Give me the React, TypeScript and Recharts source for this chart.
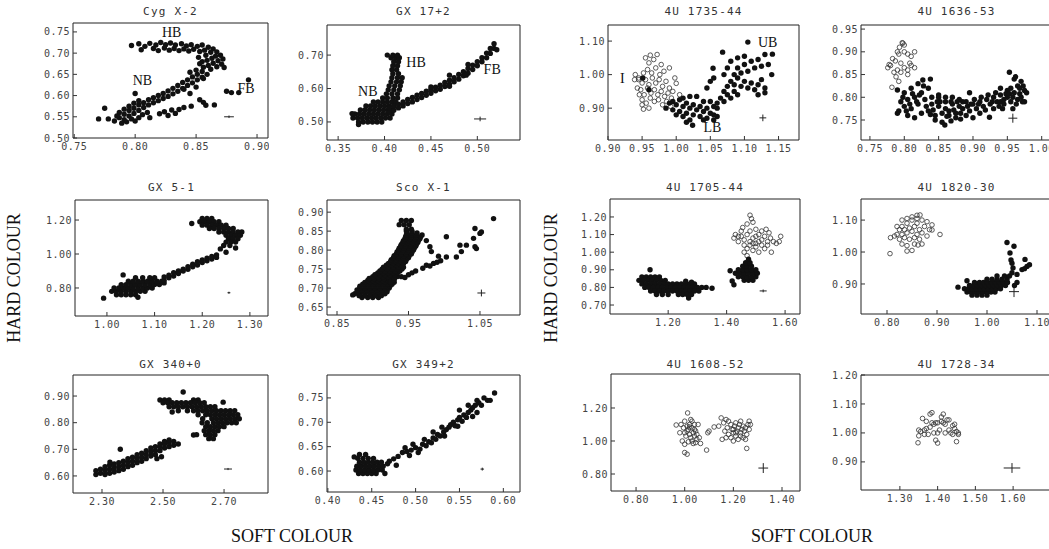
import { ScatterChart, Scatter, XAxis, YAxis, ReferenceArea, ReferenceDot, ErrorBar } from 'recharts';

type Pt = [number, number];
type Row = [number, number[]]; // [y, xs] for dense blobs
type Note = [string, number, number]; // branch label, x, y

// ---------- Cyg X-2 ----------
const cygFilled: Pt[] = [
  [0.797, 0.718], [0.803, 0.722], [0.808, 0.716], [0.812, 0.723], [0.817, 0.719], [0.821, 0.725], [0.825, 0.72], [0.829, 0.724],
  [0.833, 0.719], [0.838, 0.722], [0.842, 0.717], [0.846, 0.72], [0.851, 0.716], [0.855, 0.719], [0.86, 0.714], [0.864, 0.71],
  [0.805, 0.708], [0.815, 0.711], [0.819, 0.706], [0.824, 0.712], [0.828, 0.707], [0.832, 0.711], [0.836, 0.706], [0.84, 0.71],
  [0.844, 0.705], [0.848, 0.709], [0.853, 0.704], [0.857, 0.707], [0.862, 0.702],
  [0.867, 0.703], [0.87, 0.695], [0.866, 0.693], [0.872, 0.686], [0.868, 0.682], [0.863, 0.688], [0.858, 0.695], [0.859, 0.683],
  [0.864, 0.676], [0.871, 0.674], [0.867, 0.668], [0.86, 0.671], [0.855, 0.68], [0.862, 0.662], [0.856, 0.667], [0.853, 0.675],
  [0.873, 0.666], [0.852, 0.69],
  [0.787, 0.548], [0.787, 0.56], [0.791, 0.543], [0.791, 0.556], [0.791, 0.568], [0.795, 0.552], [0.795, 0.565], [0.795, 0.575],
  [0.799, 0.558], [0.799, 0.57], [0.799, 0.582], [0.803, 0.565], [0.803, 0.578], [0.803, 0.588], [0.807, 0.572], [0.807, 0.583],
  [0.811, 0.578], [0.811, 0.59], [0.815, 0.583], [0.815, 0.595], [0.819, 0.588], [0.819, 0.6], [0.823, 0.593], [0.823, 0.605],
  [0.827, 0.598], [0.827, 0.611], [0.831, 0.604], [0.831, 0.617], [0.835, 0.61], [0.835, 0.624], [0.839, 0.617], [0.839, 0.631],
  [0.843, 0.624], [0.843, 0.637], [0.847, 0.63], [0.847, 0.644], [0.851, 0.637], [0.851, 0.65], [0.855, 0.643], [0.855, 0.657],
  [0.859, 0.65], [0.85, 0.62], [0.845, 0.605], [0.856, 0.64], [0.84, 0.615], [0.85, 0.66], [0.845, 0.655],
  [0.783, 0.54], [0.785, 0.552], [0.789, 0.535], [0.793, 0.538], [0.797, 0.545], [0.8, 0.54], [0.803, 0.548], [0.806, 0.555],
  [0.81, 0.56], [0.812, 0.548], [0.77, 0.545], [0.775, 0.57], [0.778, 0.545], [0.8, 0.605],
  [0.82, 0.557], [0.824, 0.562], [0.827, 0.553], [0.83, 0.566], [0.833, 0.558], [0.836, 0.567], [0.84, 0.572], [0.846, 0.575],
  [0.853, 0.59], [0.856, 0.584], [0.858, 0.577], [0.865, 0.578],
  [0.875, 0.61], [0.879, 0.607], [0.885, 0.607], [0.893, 0.637],
];

// ---------- GX 17+2 ----------
const gx17Blob: Row[] = [
  [0.5, [0.372, 0.377, 0.382, 0.387, 0.392, 0.397]],
  [0.512, [0.366, 0.371, 0.376, 0.381, 0.386, 0.391, 0.396, 0.401, 0.406]],
  [0.524, [0.368, 0.373, 0.378, 0.383, 0.388, 0.393, 0.398, 0.403, 0.408]],
  [0.536, [0.374, 0.379, 0.384, 0.389, 0.394, 0.399, 0.404, 0.409]],
  [0.548, [0.38, 0.385, 0.39, 0.395, 0.4, 0.405, 0.41]],
  [0.56, [0.388, 0.393, 0.398, 0.403, 0.408, 0.412]],
  [0.572, [0.398, 0.403, 0.409, 0.414]],
  [0.584, [0.402, 0.408, 0.414]],
  [0.596, [0.404, 0.41, 0.416]],
  [0.608, [0.405, 0.411, 0.417]],
  [0.62, [0.407, 0.413, 0.418]],
  [0.632, [0.408, 0.414, 0.419]],
  [0.644, [0.409, 0.415]],
  [0.656, [0.408, 0.413]],
  [0.668, [0.409, 0.414]],
  [0.68, [0.41, 0.415]],
  [0.692, [0.407, 0.412, 0.416]],
  [0.7, [0.403, 0.409, 0.414]],
];
const gx17Filled: Pt[] = [
  [0.365, 0.525], [0.372, 0.492],
  [0.405, 0.53], [0.405, 0.542], [0.41, 0.535], [0.41, 0.548], [0.415, 0.542], [0.415, 0.553], [0.42, 0.548], [0.42, 0.56],
  [0.425, 0.555], [0.425, 0.567], [0.43, 0.56], [0.43, 0.573], [0.435, 0.567], [0.435, 0.58], [0.44, 0.573], [0.44, 0.585],
  [0.445, 0.58], [0.445, 0.592], [0.45, 0.586], [0.45, 0.598], [0.455, 0.593], [0.455, 0.604], [0.46, 0.598], [0.46, 0.61],
  [0.465, 0.606], [0.465, 0.618], [0.47, 0.613], [0.47, 0.625], [0.475, 0.62], [0.475, 0.632], [0.48, 0.628], [0.48, 0.642],
  [0.485, 0.638], [0.485, 0.65], [0.49, 0.646], [0.49, 0.66], [0.495, 0.657], [0.495, 0.67], [0.5, 0.668], [0.5, 0.68],
  [0.505, 0.68], [0.505, 0.692], [0.51, 0.692], [0.51, 0.706], [0.514, 0.705], [0.514, 0.72], [0.518, 0.72], [0.518, 0.734],
  [0.45, 0.605], [0.47, 0.607], [0.488, 0.64], [0.49, 0.672], [0.47, 0.64], [0.521, 0.716],
];

// ---------- 4U 1735-44 ----------
const u1735Open: Pt[] = [
  [0.945, 0.99], [0.95, 0.975], [0.955, 0.985], [0.96, 0.97], [0.965, 0.99], [0.97, 0.975], [0.975, 0.985], [0.98, 0.965],
  [0.985, 0.98], [0.99, 0.96], [0.948, 0.955], [0.953, 0.94], [0.958, 0.96], [0.963, 0.945], [0.968, 0.955], [0.973, 0.94],
  [0.978, 0.95], [0.983, 0.935], [0.988, 0.945], [0.993, 0.93], [0.95, 0.925], [0.956, 0.915], [0.962, 0.93], [0.968, 0.92],
  [0.974, 0.925], [0.98, 0.91], [0.986, 0.92], [0.992, 0.905], [0.952, 1.005], [0.958, 1.015], [0.964, 1.005], [0.97, 1.02],
  [0.976, 1.0], [0.982, 1.01], [0.96, 1.035], [0.967, 1.045], [0.955, 1.05], [0.962, 1.058], [0.972, 1.06], [0.978, 1.03],
  [0.99, 1.02], [0.939, 0.985], [0.945, 0.985], [0.94, 1.0], [0.943, 0.96], [0.946, 0.94], [0.95, 0.91], [0.952, 0.897],
  [0.96, 0.9], [1.0, 0.974], [0.995, 0.95], [1.005, 0.94], [0.998, 0.99],
];
const u1735Filled: Pt[] = [
  [0.951, 0.99], [0.96, 0.955],
  [0.985, 0.9], [0.99, 0.915], [0.995, 0.895], [1.0, 0.91], [1.005, 0.89], [1.01, 0.905], [1.015, 0.885], [1.02, 0.9],
  [1.025, 0.88], [1.03, 0.895], [1.035, 0.875], [1.04, 0.89], [1.045, 0.87], [1.05, 0.885], [1.055, 0.88], [1.06, 0.9],
  [0.995, 0.92], [1.005, 0.925], [1.015, 0.915], [1.025, 0.91], [1.035, 0.905], [1.045, 0.9], [1.055, 0.905], [1.01, 0.93],
  [1.03, 0.935], [1.02, 0.935], [1.04, 0.92], [1.05, 0.92], [1.0, 0.88], [1.01, 0.875], [1.02, 0.865], [1.024, 0.849],
  [1.015, 0.858], [1.04, 0.865], [1.055, 0.865], [1.06, 0.875],
  [1.06, 0.915], [1.065, 0.93], [1.07, 0.92], [1.075, 0.94], [1.08, 0.93], [1.085, 0.95], [1.09, 0.94], [1.07, 0.95],
  [1.075, 0.965], [1.08, 0.98], [1.085, 0.97], [1.09, 0.99], [1.095, 0.965], [1.1, 0.98], [1.105, 0.96], [1.11, 0.975],
  [1.115, 0.955], [1.12, 0.97], [1.125, 0.985], [1.13, 0.96], [1.085, 1.0], [1.09, 1.02], [1.095, 1.005], [1.1, 1.03],
  [1.105, 1.01], [1.11, 1.04], [1.115, 1.02], [1.12, 1.045], [1.125, 1.025], [1.1, 1.055], [1.09, 1.05], [1.08, 1.04],
  [1.075, 1.02], [1.07, 1.0], [1.068, 1.067], [1.054, 1.019], [1.055, 0.99], [1.05, 0.98], [1.045, 0.96], [1.13, 1.06],
  [1.135, 1.03], [1.14, 1.0], [1.13, 0.946], [1.105, 1.097], [1.141, 1.061], [1.12, 0.94],
];

// ---------- 4U 1636-53 ----------
const u1636Open: Pt[] = [
  [0.776, 0.865], [0.78, 0.87], [0.783, 0.885], [0.787, 0.88], [0.79, 0.9], [0.793, 0.91], [0.797, 0.92], [0.8, 0.915],
  [0.792, 0.895], [0.785, 0.855], [0.79, 0.86], [0.795, 0.855], [0.8, 0.865], [0.805, 0.86], [0.81, 0.87], [0.8, 0.9],
  [0.805, 0.895], [0.81, 0.89], [0.815, 0.9], [0.808, 0.875], [0.795, 0.875], [0.788, 0.845], [0.792, 0.835], [0.782, 0.822],
  [0.778, 0.872], [0.798, 0.919], [0.805, 0.85], [0.815, 0.865],
];
const u1636Filled: Pt[] = [
  [0.79, 0.765], [0.795, 0.79], [0.8, 0.78], [0.8, 0.81], [0.805, 0.795], [0.81, 0.775], [0.81, 0.82], [0.815, 0.8],
  [0.82, 0.785], [0.82, 0.83], [0.825, 0.81], [0.83, 0.795], [0.827, 0.838], [0.835, 0.82], [0.838, 0.84], [0.79, 0.816],
  [0.792, 0.77], [0.815, 0.755], [0.825, 0.765], [0.805, 0.76],
  [0.835, 0.77], [0.84, 0.785], [0.845, 0.76], [0.85, 0.78], [0.855, 0.765], [0.86, 0.79], [0.865, 0.77], [0.87, 0.785],
  [0.875, 0.765], [0.88, 0.78], [0.885, 0.775], [0.89, 0.79], [0.895, 0.77], [0.9, 0.785], [0.905, 0.775], [0.91, 0.79],
  [0.915, 0.78], [0.92, 0.795], [0.84, 0.8], [0.85, 0.805], [0.86, 0.775], [0.87, 0.8], [0.88, 0.795], [0.845, 0.75],
  [0.855, 0.745], [0.865, 0.76], [0.875, 0.755], [0.859, 0.739], [0.89, 0.76], [0.9, 0.755], [0.91, 0.765], [0.895, 0.81],
  [0.85, 0.8], [0.925, 0.785], [0.93, 0.8], [0.935, 0.79], [0.94, 0.805], [0.945, 0.785], [0.95, 0.8], [0.955, 0.79],
  [0.96, 0.81], [0.965, 0.795], [0.97, 0.8], [0.975, 0.815], [0.965, 0.825], [0.96, 0.84], [0.953, 0.855], [0.962, 0.845],
  [0.97, 0.835], [0.968, 0.82], [0.978, 0.81], [0.94, 0.82], [0.95, 0.815], [0.93, 0.775], [0.924, 0.756], [0.958, 0.775],
  [0.975, 0.79], [0.94, 0.79], [0.912, 0.8],
  [0.803, 0.77], [0.818, 0.79], [0.832, 0.78], [0.842, 0.772], [0.852, 0.79], [0.862, 0.758], [0.872, 0.772], [0.882, 0.765],
  [0.892, 0.78], [0.902, 0.795], [0.918, 0.772], [0.928, 0.79], [0.938, 0.78], [0.948, 0.808], [0.958, 0.8], [0.968, 0.808],
  [0.973, 0.825], [0.945, 0.795], [0.86, 0.8], [0.822, 0.805], [0.798, 0.8], [0.812, 0.808], [0.877, 0.79], [0.955, 0.82],
  [0.838, 0.762], [0.848, 0.79], [0.868, 0.79], [0.885, 0.79], [0.897, 0.785], [0.908, 0.785], [0.922, 0.805], [0.933, 0.81],
  [0.943, 0.775], [0.953, 0.808], [0.963, 0.785], [0.972, 0.79], [0.828, 0.825], [0.808, 0.785], [0.868, 0.748], [0.882, 0.752],
];

// ---------- GX 5-1 ----------
const gx5Blob: Row[] = [
  [0.76, [1.02, 1.03, 1.04, 1.05, 1.06]],
  [0.78, [1.01, 1.02, 1.03, 1.04, 1.05, 1.06, 1.07, 1.08]],
  [0.8, [1.015, 1.025, 1.035, 1.045, 1.055, 1.065, 1.075, 1.085, 1.095]],
  [0.82, [1.03, 1.04, 1.05, 1.06, 1.07, 1.08, 1.09, 1.1, 1.11]],
  [0.84, [1.045, 1.055, 1.065, 1.075, 1.085, 1.095, 1.105, 1.115]],
  [0.86, [1.06, 1.075, 1.09, 1.1]],
  [1.21, [1.2, 1.21, 1.22]],
  [1.19, [1.195, 1.205, 1.215, 1.225, 1.235]],
  [1.17, [1.2, 1.21, 1.22, 1.23, 1.24, 1.25]],
  [1.15, [1.215, 1.225, 1.235, 1.245, 1.255, 1.265]],
  [1.13, [1.235, 1.245, 1.255, 1.265, 1.275, 1.283]],
  [1.11, [1.25, 1.26, 1.27, 1.28]],
  [1.09, [1.255, 1.265, 1.275]],
  [1.07, [1.25, 1.26, 1.27]],
  [1.05, [1.245, 1.258]],
];
const gx5Filled: Pt[] = [
  [1.034, 0.877], [0.993, 0.74], [1.065, 0.745], [1.12, 0.83],
  [1.12, 0.845], [1.12, 0.865], [1.13, 0.86], [1.13, 0.875], [1.14, 0.87], [1.14, 0.89], [1.15, 0.885], [1.15, 0.9],
  [1.16, 0.9], [1.16, 0.91], [1.17, 0.91], [1.17, 0.925], [1.18, 0.925], [1.18, 0.94], [1.19, 0.935], [1.19, 0.955],
  [1.2, 0.95], [1.2, 0.965], [1.21, 0.96], [1.21, 0.975], [1.22, 0.97], [1.22, 0.985], [1.23, 0.98], [1.23, 0.995],
  [1.178, 1.18], [1.25, 1.01], [1.27, 1.035], [1.238, 1.03],
];

// ---------- Sco X-1 ----------
const scoBlob: Row[] = [
  [0.675, [0.885, 0.893, 0.9, 0.908]],
  [0.68, [0.881, 0.889, 0.897, 0.904, 0.912]],
  [0.685, [0.875, 0.882, 0.889, 0.896, 0.903, 0.91, 0.917]],
  [0.69, [0.879, 0.886, 0.893, 0.9, 0.907, 0.914, 0.92]],
  [0.695, [0.878, 0.885, 0.892, 0.899, 0.906, 0.913, 0.92]],
  [0.7, [0.882, 0.889, 0.896, 0.903, 0.91, 0.917, 0.923]],
  [0.705, [0.882, 0.889, 0.896, 0.903, 0.91, 0.917, 0.924]],
  [0.71, [0.886, 0.893, 0.9, 0.907, 0.914, 0.921, 0.927]],
  [0.715, [0.889, 0.896, 0.903, 0.91, 0.917, 0.924, 0.93]],
  [0.72, [0.893, 0.9, 0.907, 0.914, 0.921, 0.928]],
  [0.725, [0.895, 0.902, 0.909, 0.916, 0.923, 0.93]],
  [0.73, [0.9, 0.907, 0.914, 0.921, 0.928, 0.934]],
  [0.735, [0.903, 0.91, 0.917, 0.924, 0.931]],
  [0.74, [0.907, 0.914, 0.921, 0.928, 0.935]],
  [0.745, [0.91, 0.917, 0.924, 0.931, 0.938]],
  [0.75, [0.913, 0.92, 0.927, 0.934, 0.941]],
  [0.755, [0.915, 0.922, 0.929, 0.936, 0.943]],
  [0.76, [0.919, 0.926, 0.933, 0.94]],
  [0.765, [0.922, 0.929, 0.936, 0.943]],
  [0.77, [0.925, 0.932, 0.939, 0.946]],
  [0.775, [0.926, 0.933, 0.94, 0.947]],
  [0.78, [0.929, 0.936, 0.943, 0.95]],
  [0.785, [0.93, 0.937, 0.944, 0.951]],
  [0.79, [0.933, 0.94, 0.947, 0.954]],
  [0.795, [0.934, 0.941, 0.948, 0.955]],
  [0.8, [0.936, 0.943, 0.95, 0.957]],
  [0.805, [0.937, 0.944, 0.951, 0.958]],
  [0.81, [0.939, 0.946, 0.953, 0.96]],
  [0.815, [0.94, 0.947, 0.954, 0.961]],
  [0.82, [0.942, 0.949, 0.956, 0.963]],
  [0.825, [0.943, 0.95, 0.957, 0.964]],
  [0.83, [0.945, 0.952, 0.959, 0.966]],
  [0.835, [0.946, 0.953, 0.96, 0.967]],
  [0.84, [0.947, 0.954, 0.961]],
  [0.845, [0.948, 0.955, 0.962]],
  [0.85, [0.947, 0.955]],
  [0.855, [0.947, 0.954]],
  [0.867, [0.937, 0.944, 0.951]],
  [0.878, [0.94, 0.947, 0.954]],
];
const scoFilled: Pt[] = [
  [0.872, 0.682], [0.969, 0.84], [0.975, 0.825],
  [0.925, 0.716], [0.93, 0.722], [0.94, 0.73], [0.945, 0.728], [0.95, 0.735], [0.955, 0.74], [0.96, 0.745], [0.97, 0.752],
  [0.975, 0.76], [0.98, 0.758], [0.985, 0.765], [0.99, 0.768], [0.995, 0.772],
  [0.98, 0.809], [0.982, 0.796], [0.992, 0.784], [1.003, 0.782], [1.017, 0.782], [1.024, 0.796], [1.022, 0.813],
  [1.031, 0.813], [1.041, 0.831], [1.043, 0.809], [1.045, 0.804], [1.043, 0.857], [1.05, 0.844], [1.052, 0.848],
  [1.069, 0.883], [1.003, 0.835],
];

// ---------- 4U 1705-44 ----------
const u1705Blob: Row[] = [
  [0.86, [1.11, 1.125, 1.14, 1.155, 1.17]],
  [0.84, [1.1, 1.115, 1.13, 1.145, 1.16, 1.175, 1.19]],
  [0.82, [1.11, 1.125, 1.14, 1.155, 1.17, 1.185, 1.2, 1.215, 1.23, 1.245, 1.26, 1.275, 1.29]],
  [0.8, [1.12, 1.135, 1.15, 1.165, 1.18, 1.195, 1.21, 1.225, 1.24, 1.255, 1.27, 1.285, 1.3, 1.315, 1.33]],
  [0.78, [1.14, 1.155, 1.17, 1.185, 1.2, 1.215, 1.23, 1.245, 1.26, 1.275, 1.29, 1.305]],
  [0.76, [1.16, 1.18, 1.2, 1.235, 1.25, 1.265, 1.28]],
  [0.84, [1.46, 1.475, 1.49]],
  [0.86, [1.44, 1.455, 1.47, 1.485, 1.5]],
  [0.88, [1.43, 1.445, 1.46, 1.475, 1.49, 1.505]],
  [0.9, [1.44, 1.455, 1.47, 1.485, 1.5]],
  [0.92, [1.455, 1.47, 1.485]],
  [0.94, [1.465, 1.48]],
  [0.96, [1.475]],
];
const u1705Filled: Pt[] = [
  [1.138, 0.9], [1.27, 0.74], [1.26, 0.835], [1.28, 0.83], [1.35, 0.795], [1.412, 0.895], [1.419, 0.836], [1.425, 0.815],
];
const u1705Open: Pt[] = [
  [1.45, 1.09], [1.46, 1.07], [1.47, 1.1], [1.48, 1.06], [1.49, 1.08], [1.5, 1.05], [1.51, 1.1], [1.52, 1.07],
  [1.53, 1.09], [1.54, 1.06], [1.55, 1.08], [1.46, 1.04], [1.47, 1.02], [1.48, 1.04], [1.49, 1.01], [1.5, 1.03],
  [1.51, 1.0], [1.52, 1.04], [1.53, 1.02], [1.54, 1.04], [1.45, 1.12], [1.48, 1.12], [1.5, 1.13], [1.52, 1.12],
  [1.44, 1.09], [1.43, 1.1], [1.425, 1.08], [1.56, 1.06], [1.57, 1.05], [1.585, 1.09], [1.58, 1.06], [1.553, 1.0],
  [1.485, 1.19], [1.48, 1.21], [1.47, 1.16], [1.49, 1.17], [1.455, 1.14], [1.535, 1.13], [1.545, 1.11], [1.46, 1.0],
  [1.47, 0.98], [1.49, 1.05], [1.51, 1.06], [1.44, 1.06], [1.5, 1.09],
];

// ---------- 4U 1820-30 ----------
const u1820Open: Pt[] = [
  [0.83, 1.08], [0.84, 1.09], [0.85, 1.1], [0.86, 1.09], [0.835, 1.07], [0.845, 1.075], [0.855, 1.08], [0.865, 1.07],
  [0.83, 1.055], [0.84, 1.06], [0.85, 1.065], [0.86, 1.055], [0.87, 1.06], [0.835, 1.045], [0.845, 1.04], [0.855, 1.045],
  [0.865, 1.04], [0.825, 1.04], [0.82, 1.055], [0.807, 1.045], [0.815, 1.05], [0.825, 1.07], [0.82, 1.08], [0.83, 1.1],
  [0.84, 1.105], [0.85, 1.11], [0.86, 1.105], [0.87, 1.1], [0.88, 1.095], [0.875, 1.08], [0.885, 1.07], [0.89, 1.085],
  [0.89, 1.069], [0.88, 1.05], [0.87, 1.025], [0.862, 1.022], [0.85, 1.005], [0.84, 1.003], [0.806, 0.995], [0.906, 1.055],
  [0.84, 1.02], [0.855, 1.025], [0.83, 1.025], [0.86, 1.115], [0.866, 1.116],
];
const u1820Blob: Row[] = [
  [0.865, [0.97, 0.98, 0.99, 1.0]],
  [0.875, [0.96, 0.968, 0.976, 0.984, 0.992, 1.0, 1.008, 1.016]],
  [0.885, [0.955, 0.963, 0.971, 0.979, 0.987, 0.995, 1.003, 1.011, 1.019, 1.027]],
  [0.895, [0.965, 0.973, 0.981, 0.989, 0.997, 1.005, 1.013, 1.021, 1.029, 1.037]],
  [0.905, [0.985, 0.993, 1.001, 1.009, 1.017, 1.025, 1.033, 1.041]],
  [0.915, [1.0, 1.01, 1.02, 1.03, 1.04]],
  [0.925, [1.02, 1.035, 1.045]],
];
const u1820Filled: Pt[] = [
  [1.05, 0.935], [1.052, 0.95], [1.05, 0.965], [1.048, 0.975], [1.04, 1.03], [1.046, 0.997], [1.054, 1.018], [1.06, 0.93],
  [1.07, 0.945], [1.08, 0.955], [1.085, 0.96], [1.076, 0.977], [1.075, 0.948], [0.942, 0.89], [0.96, 0.91], [0.975, 0.905],
  [1.06, 0.905], [1.055, 0.895],
];

// ---------- GX 340+0 ----------
const gx340Blob: Row[] = [
  [0.885, [2.49, 2.505, 2.52, 2.6, 2.615]],
  [0.875, [2.5, 2.515, 2.53, 2.545, 2.56, 2.575, 2.59, 2.605, 2.62, 2.635]],
  [0.86, [2.52, 2.535, 2.55, 2.565, 2.58, 2.595, 2.61, 2.625, 2.64, 2.655, 2.67]],
  [0.845, [2.55, 2.58, 2.6, 2.615, 2.63, 2.645, 2.66, 2.675, 2.69, 2.705, 2.72, 2.735]],
  [0.83, [2.615, 2.64, 2.655, 2.67, 2.685, 2.7, 2.715, 2.73, 2.745]],
  [0.815, [2.63, 2.66, 2.675, 2.69, 2.705, 2.72, 2.735, 2.75]],
  [0.8, [2.645, 2.665, 2.68, 2.695, 2.71, 2.725, 2.74]],
  [0.785, [2.64, 2.655, 2.67, 2.685, 2.7]],
  [0.77, [2.635, 2.65, 2.665, 2.68]],
  [0.755, [2.64, 2.655, 2.67]],
  [0.74, [2.65, 2.665]],
];
const gx340Filled: Pt[] = [
  [2.28, 0.605], [2.28, 0.62], [2.295, 0.61], [2.295, 0.625], [2.31, 0.605], [2.31, 0.62], [2.31, 0.635], [2.325, 0.61],
  [2.325, 0.625], [2.325, 0.64], [2.34, 0.615], [2.34, 0.63], [2.34, 0.645], [2.355, 0.62], [2.355, 0.635], [2.355, 0.65],
  [2.37, 0.625], [2.37, 0.64], [2.37, 0.655], [2.385, 0.635], [2.385, 0.65], [2.385, 0.665], [2.4, 0.64], [2.4, 0.655],
  [2.4, 0.67], [2.415, 0.65], [2.415, 0.665], [2.415, 0.68], [2.43, 0.655], [2.43, 0.67], [2.43, 0.685], [2.445, 0.665],
  [2.445, 0.68], [2.445, 0.695], [2.46, 0.675], [2.46, 0.69], [2.46, 0.705], [2.475, 0.68], [2.475, 0.695], [2.475, 0.71],
  [2.49, 0.695], [2.49, 0.71], [2.49, 0.72], [2.505, 0.705], [2.505, 0.72], [2.505, 0.73], [2.52, 0.71], [2.52, 0.725],
  [2.52, 0.735], [2.535, 0.715], [2.535, 0.73], [2.55, 0.72],
  [2.36, 0.7], [2.48, 0.665], [2.495, 0.672], [2.326, 0.652],
  [2.566, 0.915], [2.53, 0.84], [2.6, 0.754], [2.61, 0.755], [2.628, 0.8], [2.697, 0.877],
];

// ---------- GX 349+2 ----------
const gx349Blob: Row[] = [
  [0.595, [0.435, 0.44, 0.445, 0.45, 0.455]],
  [0.602, [0.432, 0.437, 0.442, 0.447, 0.452, 0.457, 0.462]],
  [0.61, [0.433, 0.438, 0.443, 0.448, 0.453, 0.458, 0.463]],
  [0.618, [0.436, 0.441, 0.446, 0.451, 0.456, 0.461]],
  [0.626, [0.434, 0.44, 0.446, 0.452]],
  [0.634, [0.436, 0.443]],
];
const gx349Filled: Pt[] = [
  [0.43, 0.629], [0.465, 0.595], [0.468, 0.615], [0.47, 0.62], [0.475, 0.625], [0.478, 0.612],
  [0.48, 0.63], [0.485, 0.638], [0.49, 0.64], [0.495, 0.643], [0.5, 0.648], [0.505, 0.645], [0.508, 0.655], [0.512, 0.652],
  [0.515, 0.66], [0.52, 0.668], [0.523, 0.665], [0.525, 0.675], [0.528, 0.672], [0.532, 0.68], [0.535, 0.685], [0.538, 0.69],
  [0.54, 0.695], [0.543, 0.7], [0.545, 0.693], [0.548, 0.705], [0.55, 0.71], [0.553, 0.702], [0.555, 0.715], [0.558, 0.71],
  [0.56, 0.72], [0.563, 0.725], [0.565, 0.73], [0.568, 0.735], [0.572, 0.74], [0.575, 0.735], [0.578, 0.75], [0.582, 0.745],
  [0.585, 0.745], [0.59, 0.76], [0.57, 0.745], [0.56, 0.735], [0.55, 0.725], [0.53, 0.69], [0.52, 0.68], [0.51, 0.665],
  [0.497, 0.655], [0.488, 0.648], [0.493, 0.632], [0.503, 0.638], [0.518, 0.658], [0.533, 0.672], [0.548, 0.692],
  [0.57, 0.72], [0.565, 0.712],
];

// ---------- 4U 1608-52 ----------
const u1608Open: Pt[] = [
  [0.985, 1.1], [0.995, 1.08], [1.0, 1.12], [1.01, 1.09], [1.015, 1.07], [1.02, 1.1], [1.025, 1.13], [1.03, 1.08],
  [1.035, 1.05], [1.04, 1.1], [1.045, 1.06], [1.05, 1.04], [1.055, 1.1], [1.06, 1.02], [1.0, 1.05], [1.005, 1.03],
  [1.01, 1.06], [1.02, 1.04], [1.025, 1.02], [1.03, 1.0], [1.04, 1.03], [1.045, 0.99], [1.05, 1.01], [0.98, 1.05],
  [0.99, 1.0], [1.0, 0.98], [1.015, 0.995], [1.035, 0.985], [1.065, 0.985], [1.0, 0.93], [1.01, 0.92], [1.09, 0.945],
  [1.012, 1.17], [0.965, 1.097], [1.03, 1.12], [1.02, 1.085], [1.04, 1.07], [1.095, 1.05], [1.1, 1.06],
  [1.14, 1.09], [1.15, 1.14], [1.16, 1.11], [1.17, 1.13], [1.175, 1.08], [1.18, 1.12], [1.19, 1.1], [1.195, 1.07],
  [1.2, 1.05], [1.205, 1.09], [1.21, 1.11], [1.215, 1.06], [1.22, 1.08], [1.225, 1.1], [1.23, 1.05], [1.235, 1.07],
  [1.24, 1.09], [1.245, 1.06], [1.25, 1.08], [1.255, 1.04], [1.26, 1.1], [1.265, 1.07], [1.27, 1.1], [1.18, 1.04],
  [1.19, 1.02], [1.2, 1.0], [1.21, 1.03], [1.22, 1.01], [1.23, 1.03], [1.24, 1.02], [1.25, 1.01], [1.165, 1.06],
  [1.17, 1.02], [1.154, 1.01], [1.121, 1.085], [1.255, 0.955], [1.265, 1.12], [1.2, 1.07], [1.21, 1.05], [1.23, 1.12],
];

// ---------- 4U 1728-34 ----------
const u1728Open: Pt[] = [
  [1.348, 0.966], [1.35, 0.99], [1.355, 1.005], [1.36, 1.05], [1.365, 1.01], [1.37, 1.015], [1.375, 0.995], [1.38, 1.02],
  [1.38, 1.065], [1.385, 1.07], [1.39, 1.0], [1.39, 1.03], [1.395, 0.975], [1.4, 0.965], [1.4, 1.035], [1.405, 1.01],
  [1.41, 1.04], [1.41, 1.055], [1.415, 1.065], [1.42, 1.03], [1.42, 1.0], [1.425, 1.045], [1.43, 1.01], [1.435, 1.0],
  [1.44, 1.025], [1.445, 1.015], [1.45, 1.005], [1.455, 0.995], [1.45, 0.97], [1.455, 1.0], [1.445, 1.03], [1.44, 0.995],
  [1.395, 1.035], [1.385, 1.035], [1.37, 1.04], [1.35, 1.01], [1.365, 0.995], [1.415, 1.035], [1.43, 1.045], [1.4, 1.0],
];

// error crosses: x, y, xErr, yErr
const errCyg = [0.877, 0.55, 0.004, 0.003];
const errGx17 = [0.503, 0.509, 0.0065, 0.007];
const err1735 = [1.127, 0.871, 0.005, 0.01];
const err1636 = [0.958, 0.754, 0.0065, 0.01];
const errGx5 = [1.256, 0.772, 0.003, 0.006];
const errSco = [1.052, 0.687, 0.0056, 0.009];
const err1705 = [1.525, 0.78, 0.012, 0.008];
const err1820 = [1.054, 0.876, 0.01, 0.017];
const errGx340 = [2.713, 0.626, 0.013, 0.004];
const errGx349 = [0.576, 0.604, 0.002, 0.003];
const err1608 = [1.323, 0.836, 0.02, 0.03];
const err1728 = [1.597, 0.879, 0.022, 0.017];

// branch names written inside the panels
const cygNotes: Note[] = [['HB', 0.83, 0.745], ['NB', 0.806, 0.632], ['FB', 0.891, 0.614]];
const gx17Notes: Note[] = [['HB', 0.434, 0.674], ['NB', 0.382, 0.586], ['FB', 0.516, 0.654]];
const u1735Notes: Note[] = [['I', 0.921, 0.984], ['LB', 1.053, 0.838], ['UB', 1.134, 1.092]];

const flat = (rows: Row[]): Pt[] => rows.flatMap(([y, xs]) => xs.map((x) => [x, y] as Pt));

interface PanelDef {
  title: string;
  box: [number, number, number, number];
  xDomain: [number, number];
  yDomain: [number, number];
  xTicks: number[];
  yTicks: number[];
  filled: Pt[];
  open: Pt[];
  err: number[];
  notes?: Note[];
}

const panels: PanelDef[] = [
  { title: 'Cyg X-2', box: [73, 23, 268, 138], xDomain: [0.749, 0.909], yDomain: [0.5, 0.771],
    xTicks: [0.75, 0.8, 0.85, 0.9], yTicks: [0.5, 0.55, 0.6, 0.65, 0.7, 0.75], filled: cygFilled, open: [], err: errCyg, notes: cygNotes },
  { title: 'GX 17+2', box: [327, 25, 520, 140], xDomain: [0.338, 0.546], yDomain: [0.446, 0.79],
    xTicks: [0.35, 0.4, 0.45, 0.5], yTicks: [0.5, 0.6, 0.7], filled: [...flat(gx17Blob), ...gx17Filled], open: [], err: errGx17, notes: gx17Notes },
  { title: '4U 1735-44', box: [608, 25, 799, 140], xDomain: [0.9, 1.18], yDomain: [0.805, 1.148],
    xTicks: [0.9, 0.95, 1.0, 1.05, 1.1, 1.15], yTicks: [0.9, 1.0, 1.1], filled: u1735Filled, open: u1735Open, err: err1735, notes: u1735Notes },
  { title: '4U 1636-53', box: [861, 25, 1052, 140], xDomain: [0.737, 1.015], yDomain: [0.706, 0.959],
    xTicks: [0.75, 0.8, 0.85, 0.9, 0.95, 1.0], yTicks: [0.75, 0.8, 0.85, 0.9, 0.95], filled: u1636Filled, open: u1636Open, err: err1636 },
  { title: 'GX 5-1', box: [75, 200, 268, 316], xDomain: [0.933, 1.338], yDomain: [0.635, 1.318],
    xTicks: [1.0, 1.1, 1.2, 1.3], yTicks: [0.8, 1.0, 1.2], filled: [...flat(gx5Blob), ...gx5Filled], open: [], err: errGx5 },
  { title: 'Sco X-1', box: [327, 200, 520, 315], xDomain: [0.836, 1.106], yDomain: [0.629, 0.932],
    xTicks: [0.85, 0.95, 1.05], yTicks: [0.65, 0.7, 0.75, 0.8, 0.85, 0.9], filled: [...flat(scoBlob), ...scoFilled], open: [], err: errSco },
  { title: '4U 1705-44', box: [610, 199, 800, 314], xDomain: [1.001, 1.651], yDomain: [0.649, 1.302],
    xTicks: [1.2, 1.4, 1.6], yTicks: [0.7, 0.8, 0.9, 1.0, 1.1, 1.2], filled: [...flat(u1705Blob), ...u1705Filled], open: u1705Open, err: err1705 },
  { title: '4U 1820-30', box: [861, 199, 1052, 314], xDomain: [0.748, 1.13], yDomain: [0.806, 1.166],
    xTicks: [0.8, 0.9, 1.0, 1.1], yTicks: [0.9, 1.0, 1.1], filled: [...flat(u1820Blob), ...u1820Filled], open: u1820Open, err: err1820 },
  { title: 'GX 340+0', box: [73, 375, 268, 493], xDomain: [2.205, 2.844], yDomain: [0.536, 0.979],
    xTicks: [2.3, 2.5, 2.7], yTicks: [0.6, 0.7, 0.8, 0.9], filled: [...flat(gx340Blob), ...gx340Filled], open: [], err: errGx340 },
  { title: 'GX 349+2', box: [327, 375, 520, 492], xDomain: [0.399, 0.619], yDomain: [0.557, 0.797],
    xTicks: [0.4, 0.45, 0.5, 0.55, 0.6], yTicks: [0.6, 0.65, 0.7, 0.75], filled: [...flat(gx349Blob), ...gx349Filled], open: [], err: errGx349 },
  { title: '4U 1608-52', box: [611, 374, 800, 491], xDomain: [0.697, 1.474], yDomain: [0.697, 1.406],
    xTicks: [0.8, 1.0, 1.2, 1.4], yTicks: [0.8, 1.0, 1.2], filled: [], open: u1608Open, err: err1608 },
  { title: '4U 1728-34', box: [861, 375, 1052, 490], xDomain: [1.197, 1.703], yDomain: [0.803, 1.2],
    xTicks: [1.3, 1.4, 1.5, 1.6], yTicks: [0.9, 1.0, 1.1, 1.2], filled: [], open: u1728Open, err: err1728 },
];

const MONO = '"DejaVu Sans Mono", "Liberation Mono", monospace';
const SERIF = '"Liberation Serif", "DejaVu Serif", serif';
const tickStyle = { fontSize: 10, fontFamily: MONO, fill: '#444', letterSpacing: 0.5 };
const fmt = (v: number) => v.toFixed(2);

const FilledDot = (p: any) => <circle cx={p.cx} cy={p.cy} r={2.7} fill="#111" />;
const OpenDot = (p: any) => <circle cx={p.cx} cy={p.cy} r={2.3} fill="none" stroke="#333" strokeWidth={0.8} />;
const NoDot = () => <g />;

function Panel({ def }: { def: PanelDef }) {
  const [l, t, r, b] = def.box;
  const YW = 40;
  const XH = 22;
  const TOP = 8;
  const w = r - l;
  const h = b - t;
  const toObj = (pts: Pt[]) => pts.map(([x, y]) => ({ x, y }));
  const errData = [{ x: def.err[0], y: def.err[1], ex: def.err[2], ey: def.err[3] }];
  return (
    <div style={{ position: 'absolute', left: l - YW, top: t - TOP }}>
      <ScatterChart width={YW + w + 1} height={h + XH + TOP} margin={{ top: TOP, right: 1, bottom: 0, left: 0 }}>
        <XAxis type="number" dataKey="x" domain={def.xDomain} ticks={def.xTicks} allowDataOverflow
          height={XH} axisLine={false} tickSize={-4} tickMargin={9} tickFormatter={fmt}
          tick={tickStyle} tickLine={{ stroke: '#333' }} interval={0} />
        <YAxis type="number" dataKey="y" domain={def.yDomain} ticks={def.yTicks} allowDataOverflow
          width={YW} axisLine={false} tickSize={-4} tickMargin={7} tickFormatter={fmt}
          tick={tickStyle} tickLine={{ stroke: '#333' }} interval={0} />
        <ReferenceArea x1={def.xDomain[0]} x2={def.xDomain[1]} y1={def.yDomain[0]} y2={def.yDomain[1]}
          fill="none" stroke="#222" strokeWidth={1} fillOpacity={0} />
        <Scatter data={toObj(def.open)} shape={OpenDot} isAnimationActive={false} />
        <Scatter data={toObj(def.filled)} shape={FilledDot} isAnimationActive={false} />
        <Scatter data={errData} shape={NoDot} isAnimationActive={false}>
          <ErrorBar dataKey="ex" direction="x" width={0} stroke="#222" strokeWidth={1} />
          <ErrorBar dataKey="ey" direction="y" width={0} stroke="#222" strokeWidth={1} />
        </Scatter>
        {(def.notes || []).map(([txt, x, y]) => (
          <ReferenceDot key={txt} x={x} y={y} r={0}
            shape={(p: any) => (
              <text x={p.cx} y={p.cy} textAnchor="middle" dominantBaseline="middle"
                fontFamily={SERIF} fontSize={14} fill="#111">{txt}</text>
            )} />
        ))}
      </ScatterChart>
    </div>
  );
}

const rowTitleY = [12, 188, 365];

export default function App() {
  return (
    <div style={{ position: 'absolute', left: 0, top: 0, width: 1049, height: 549, overflow: 'hidden', background: '#fff' }}>
      {panels.map((p) => (
        <Panel key={p.title} def={p} />
      ))}
      <svg width={1049} height={549} style={{ position: 'absolute', left: 0, top: 0, pointerEvents: 'none' }}>
        {panels.map((p, i) => (
          <text key={p.title} x={(p.box[0] + p.box[2]) / 2} y={rowTitleY[Math.floor(i / 4)]} textAnchor="middle"
            dominantBaseline="middle" fontFamily={MONO} fontSize={11} fill="#333" letterSpacing={1.2}>
            {p.title}
          </text>
        ))}
        <text x={16} y={278} transform="rotate(-90 16 278)" textAnchor="middle" dominantBaseline="middle"
          fontFamily={SERIF} fontSize={18} fill="#111">HARD COLOUR</text>
        <text x={553} y={278} transform="rotate(-90 553 278)" textAnchor="middle" dominantBaseline="middle"
          fontFamily={SERIF} fontSize={18} fill="#111">HARD COLOUR</text>
        <text x={292} y={538} textAnchor="middle" dominantBaseline="middle" fontFamily={SERIF} fontSize={18} fill="#111">SOFT COLOUR</text>
        <text x={812} y={538} textAnchor="middle" dominantBaseline="middle" fontFamily={SERIF} fontSize={18} fill="#111">SOFT COLOUR</text>
      </svg>
    </div>
  );
}
